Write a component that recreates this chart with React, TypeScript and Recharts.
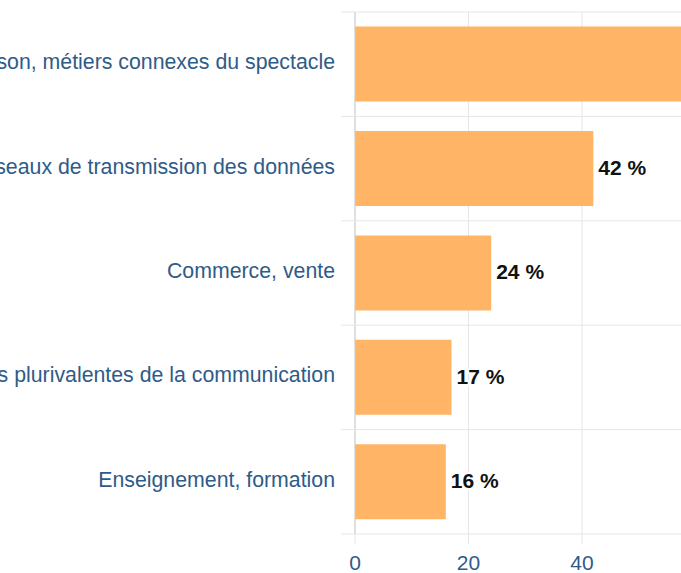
import React from "react";
import { BarChart, Bar, XAxis, YAxis, CartesianGrid, LabelList } from "recharts";

const categories = [
  "Techniques de l'image et du son, métiers connexes du spectacle",
  "Informatique, traitement de l'information, réseaux de transmission des données",
  "Commerce, vente",
  "Spécialités plurivalentes de la communication",
  "Enseignement, formation",
];
const values = [62, 42, 24, 17, 16];
const xTicks = [0, 20, 40, 60, 80];

const data = categories.map((name, i) => ({ name, value: values[i] }));

const CHART_W = 829;
const CHART_H = 573;
const MARGIN_TOP = 12;
const XAXIS_H = 39;
const PLOT_H = CHART_H - MARGIN_TOP - XAXIS_H;
const FONT = "'Liberation Sans', Arial, sans-serif";
const LABEL_BLUE = "#2f5b88";
const GRID = "#e6e6e6";

function CatTick(props: any) {
  const { x, y, payload, index } = props;
  const band = PLOT_H / categories.length;
  return (
    <g>
      <line x1={x - 14} x2={CHART_W} y1={y - band / 2} y2={y - band / 2} stroke={GRID} strokeWidth={1} />
      {index === categories.length - 1 && (
        <line x1={x - 14} x2={CHART_W} y1={y + band / 2} y2={y + band / 2} stroke={GRID} strokeWidth={1} />
      )}
      <text
        x={x - 20}
        y={y - 2}
        textAnchor="end"
        dominantBaseline="central"
        fill={LABEL_BLUE}
        fontSize={21.3}
        fontFamily={FONT}
      >
        {payload.value}
      </text>
    </g>
  );
}

function ValueLabel(props: any) {
  const { x, y, width, height, value } = props;
  return (
    <text
      x={x + width + 5}
      y={y + height / 2 - 1}
      dominantBaseline="central"
      fontSize={21}
      fontWeight="bold"
      fontFamily={FONT}
      fill="#111"
      stroke="#fff"
      strokeWidth={4}
      strokeLinejoin="round"
      style={{ paintOrder: "stroke" }}
    >
      {`${value} %`}
    </text>
  );
}

export default function App() {
  return (
    <div
      style={{
        position: "absolute",
        left: 0,
        top: 0,
        width: 681,
        height: 573,
        overflow: "hidden",
        background: "#fff",
      }}
    >
      <BarChart
        layout="vertical"
        width={CHART_W}
        height={CHART_H}
        data={data}
        margin={{ top: MARGIN_TOP, right: 20, left: 0, bottom: 0 }}
        barCategoryGap="14%"
      >
        <CartesianGrid horizontal={false} vertical={true} stroke={GRID} />
        <XAxis
          type="number"
          domain={[0, 80]}
          ticks={xTicks}
          height={XAXIS_H}
          tickSize={10}
          tickMargin={11}
          axisLine={false}
          tickLine={{ stroke: GRID }}
          tick={{ fill: LABEL_BLUE, fontSize: 21, fontFamily: FONT }}
          interval={0}
        />
        <YAxis
          type="category"
          dataKey="name"
          width={355}
          tickSize={0}
          tickMargin={0}
          tickLine={false}
          axisLine={{ stroke: "#ccc" }}
          tick={<CatTick />}
          interval={0}
        />
        <Bar dataKey="value" fill="#ffb466" isAnimationActive={false}>
          <LabelList dataKey="value" content={<ValueLabel />} />
        </Bar>
      </BarChart>
    </div>
  );
}
